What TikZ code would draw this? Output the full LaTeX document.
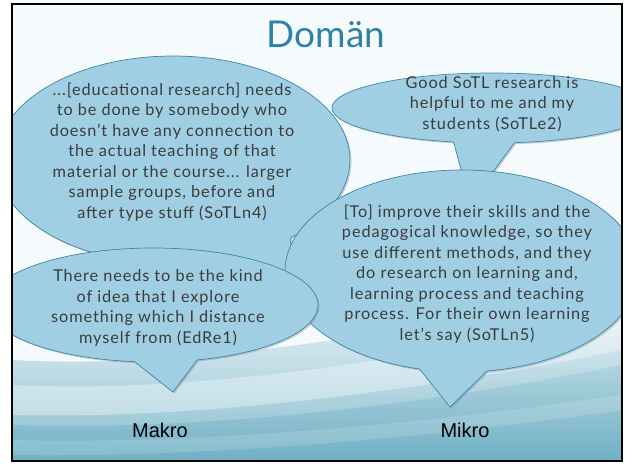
\documentclass[tikz,border=0pt]{standalone}
\usepackage{fontspec}
\setmainfont{Lato}
\newfontfamily\quotefont{Lato}[LetterSpace=5.5]
\newfontfamily\levelfont{Liberation Sans}
\usetikzlibrary{shapes.callouts,shadows}
\definecolor{bubblefill}{HTML}{A0CFE3}
\definecolor{bubbleline}{HTML}{3A88AA}
\definecolor{titleblue}{HTML}{2E82A6}
\definecolor{quotegray}{HTML}{3C3C3C}
\definecolor{slidetop}{HTML}{F5FAFD}
\definecolor{slideteal}{HTML}{6AADC2}
\begin{document}
\begin{tikzpicture}[x=1pt,y=-1pt,
    bubble/.style={ellipse callout,draw=bubbleline,fill=bubblefill,line width=0.7pt,
      callout pointer arc=22,inner sep=0pt,
      drop shadow={shadow xshift=1.5pt,shadow yshift=-1.5pt,opacity=0.35}},
    quote/.style={align=center,text=quotegray,font=\quotefont\fontsize{16.3}{20.5}\selectfont},
    level/.style={anchor=base,font=\levelfont\fontsize{20}{24}\selectfont}]
  \useasboundingbox (0,0) rectangle (626,463);
  \begin{scope}
    \clip (12,4) rectangle (622,461);
    \fill[slidetop] (12,4) rectangle (622,461);
    % swooshes at the bottom
    \shade[top color=slidetop,bottom color=slideteal!80!white]
      (12,360) .. controls (200,370) and (430,330) .. (622,280) -- (622,461) -- (12,461) -- cycle;
    \fill[white,opacity=0.35]
      (12,385) .. controls (220,395) and (450,350) .. (622,315) -- (622,350)
      .. controls (450,385) and (220,420) .. (12,415) -- cycle;
    \shade[top color=slideteal!55!white,bottom color=slideteal,opacity=0.8]
      (12,425) .. controls (220,432) and (450,400) .. (622,365) -- (622,461) -- (12,461) -- cycle;
    \fill[white,opacity=0.15]
      (12,440) .. controls (220,445) and (450,420) .. (622,395) -- (622,410)
      .. controls (450,435) and (220,458) .. (12,455) -- cycle;

    \node[titleblue,font=\fontsize{37}{40}\selectfont] (domain) at (326,34) {Domän};

    \node[bubble,minimum width=354pt,minimum height=208pt,
      callout absolute pointer={(292,278)}] (edres) at (173,160) {};
    \node[bubble,minimum width=320pt,minimum height=70pt,
      callout absolute pointer={(470,203)}] (good) at (492,108) {};
    \node[bubble,minimum width=354pt,minimum height=202pt,
      callout absolute pointer={(450,407)}] (improve) at (462,271) {};
    \node[bubble,minimum width=330pt,minimum height=114pt,
      callout absolute pointer={(173,392)}] (distance) at (153,305) {};

    \node[quote] (edrestext) at (172,152) {...[educational research] needs\\
      to be done by somebody who\\ doesn’t have any connection to\\
      the actual teaching of that\\ material or the course... larger\\
      sample groups, before and\\ after type stuff (SoTLn4)};
    \node[quote] (goodtext) at (492,104) {Good SoTL research is\\
      helpful to me and my\\ students (SoTLe2)};
    \node[quote] (improvetext) at (467,274) {[To] improve their skills and the\\
      pedagogical knowledge, so they\\ use different methods, and they\\
      do research on learning and,\\ learning process and teaching\\
      process. For their own learning\\ let’s say (SoTLn5)};
    \node[quote] (distancetext) at (158,308) {There needs to be the kind\\
      of idea that I explore\\ something which I distance\\ myself from (EdRe1)};

    \node[level] (makro) at (160,437) {Makro};
    \node[level] (mikro) at (465,437) {Mikro};
  \end{scope}
  \draw[line width=2.5pt] (12,4) rectangle (622,461);
\end{tikzpicture}
\end{document}
